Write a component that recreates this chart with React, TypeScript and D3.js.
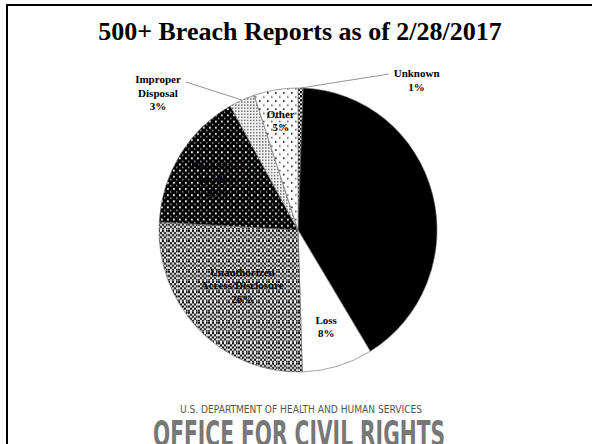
import { useEffect, useRef } from "react"
import * as d3 from "d3"

// slices in drawing order, clockwise from 12 o'clock
const categories = [
  "Unknown",
  "Theft",
  "Loss",
  "Unauthorized Access/Disclosure",
  "Hacking/IT Incident",
  "Improper Disposal",
  "Other",
]
const shares = [0.6, 40.7, 8.2, 26.4, 16.0, 3.0, 5.1]
const labelLines = [
  ["Unknown"],
  ["Theft"],
  ["Loss"],
  ["Unauthorized", "Access/Disclosure"],
  ["Hacking/IT", "Incident"],
  ["Improper", "Disposal"],
  ["Other"],
]

const title = "500+ Breach Reports as of 2/28/2017"
const footerSmall = "U.S. DEPARTMENT OF HEALTH AND HUMAN SERVICES"
const footerBig = "OFFICE FOR CIVIL RIGHTS"

const W = 592
const H = 444

export default function App() {
  const svgRef = useRef<SVGSVGElement>(null)

  useEffect(() => {
    if (!svgRef.current) return
    const root = d3.select(svgRef.current)
    root.selectAll("*").remove()

    const cx = 298
    const cy = 230
    const r = 139
    const sy = 142 / 139

    const defs = root.append("defs")

    // fill patterns, one per slice
    const unauth = defs.append("pattern").attr("id", "p-unauth").attr("patternUnits", "userSpaceOnUse").attr("width", 10).attr("height", 10)
    unauth.append("rect").attr("width", 10).attr("height", 10).attr("fill", "#eee")
    for (let i = 0; i < 5; i++)
      for (let j = 0; j < 5; j++)
        if ((i + j) % 2 === 0) unauth.append("rect").attr("x", i * 2).attr("y", j * 2).attr("width", 2).attr("height", 2).attr("fill", "#111")
    unauth.append("rect").attr("x", 0).attr("y", 9).attr("width", 10).attr("height", 1).attr("fill", "#ccc").attr("opacity", 0.5)
    unauth.append("rect").attr("x", 9).attr("y", 0).attr("width", 1).attr("height", 10).attr("fill", "#ccc").attr("opacity", 0.5)

    const hack = defs.append("pattern").attr("id", "p-hack").attr("patternUnits", "userSpaceOnUse").attr("width", 6).attr("height", 6)
    hack.append("rect").attr("width", 6).attr("height", 6).attr("fill", "#000")
    hack.append("rect").attr("x", 1).attr("y", 1).attr("width", 1.8).attr("height", 1.8).attr("fill", "#f4f4f4")
    hack.append("rect").attr("x", 4).attr("y", 4).attr("width", 1.5).attr("height", 1.5).attr("fill", "#999")

    const improper = defs.append("pattern").attr("id", "p-improper").attr("patternUnits", "userSpaceOnUse").attr("width", 3).attr("height", 3)
    improper.append("rect").attr("width", 3).attr("height", 3).attr("fill", "#f2f2f2")
    improper.append("rect").attr("width", 1.5).attr("height", 1.5).attr("fill", "#777")

    const other = defs.append("pattern").attr("id", "p-other").attr("patternUnits", "userSpaceOnUse").attr("width", 8).attr("height", 8)
    other.append("rect").attr("width", 8).attr("height", 8).attr("fill", "#fff")
    other.append("rect").attr("x", 1).attr("y", 1).attr("width", 1.6).attr("height", 1.6).attr("fill", "#222")
    other.append("rect").attr("x", 5).attr("y", 5).attr("width", 1.6).attr("height", 1.6).attr("fill", "#666")

    const unknown = defs.append("pattern").attr("id", "p-unknown").attr("patternUnits", "userSpaceOnUse").attr("width", 4).attr("height", 4)
    unknown.append("rect").attr("width", 4).attr("height", 4).attr("fill", "#000")
    unknown.append("rect").attr("x", 0).attr("y", 0).attr("width", 2).attr("height", 2).attr("fill", "#fff")
    unknown.append("rect").attr("x", 2).attr("y", 2).attr("width", 2).attr("height", 2).attr("fill", "#fff")

    const fills = ["url(#p-unknown)", "#000", "#fff", "url(#p-unauth)", "url(#p-hack)", "url(#p-improper)", "url(#p-other)"]

    // frame (only top and left edges fall inside the window)
    root.append("line").attr("x1", 7).attr("y1", 5).attr("x2", W).attr("y2", 5).attr("stroke", "#000").attr("stroke-width", 2)
    root.append("line").attr("x1", 7).attr("y1", 4).attr("x2", 7).attr("y2", H).attr("stroke", "#000").attr("stroke-width", 2)

    root
      .append("text")
      .attr("x", 300)
      .attr("y", 40)
      .attr("text-anchor", "middle")
      .attr("font-family", "'Liberation Serif', 'Times New Roman', serif")
      .attr("font-weight", "bold")
      .attr("font-size", 26)
      .text(title)

    const pie = d3
      .pie<number>()
      .sort(null)
      .value((d) => d)
    const arcs = pie(shares)
    const arc = d3.arc<d3.PieArcDatum<number>>().innerRadius(0).outerRadius(r)

    const g = root.append("g").attr("transform", `translate(${cx},${cy}) scale(1,${sy})`)
    g.selectAll("path")
      .data(arcs)
      .enter()
      .append("path")
      .attr("d", arc)
      .attr("fill", (d, i) => fills[i])
      .attr("stroke", "#666")
      .attr("stroke-width", 0.6)

    // label layout: inside labels sit at a fraction of the radius,
    // outside labels are offset from the slice edge with a leader line
    const inside: Record<number, number> = { 1: 0.6, 2: 0.71, 3: 0.56, 4: 0.68, 6: 0.78 }
    const outside: Record<number, { lead: [number, number]; label: [number, number] }> = {
      0: { lead: [88, -14], label: [116, -8] },
      5: { lead: [-56, -18], label: [-84, -7] },
    }
    const lh = 13.5
    const labels = root
      .append("g")
      .attr("font-family", "'Liberation Serif', 'Times New Roman', serif")
      .attr("font-weight", "bold")
      .attr("font-size", 11)
      .attr("text-anchor", "middle")

    arcs.forEach((a, i) => {
      const mid = (a.startAngle + a.endAngle) / 2
      const pt = (rad: number): [number, number] => [cx + rad * Math.sin(mid), cy - rad * Math.cos(mid) * sy]
      let lx: number
      let ly: number
      if (outside[i]) {
        const [ex, ey] = pt(r)
        const o = outside[i]
        labels
          .append("line")
          .attr("x1", ex)
          .attr("y1", ey)
          .attr("x2", ex + o.lead[0])
          .attr("y2", ey + o.lead[1])
          .attr("stroke", "#777")
          .attr("stroke-width", 0.8)
        lx = ex + o.label[0]
        ly = ey + o.label[1]
      } else {
        ;[lx, ly] = pt(r * inside[i])
      }
      const lines = [...labelLines[i], `${Math.round(shares[i])}%`]
      lines.forEach((t, k) => {
        labels
          .append("text")
          .attr("x", lx)
          .attr("y", ly + (k - (lines.length - 1) / 2) * lh)
          .attr("dy", "0.35em")
          .attr("fill", "#000")
          .text(t)
      })
    })

    // footer logo text
    root
      .append("text")
      .attr("x", 180)
      .attr("y", 413)
      .attr("textLength", 242)
      .attr("lengthAdjust", "spacingAndGlyphs")
      .attr("font-family", "'DejaVu Sans', sans-serif")
      .attr("font-stretch", "condensed")
      .attr("font-size", 10.5)
      .attr("fill", "#555")
      .text(footerSmall)
    root
      .append("text")
      .attr("x", 153)
      .attr("y", 446)
      .attr("textLength", 292)
      .attr("lengthAdjust", "spacingAndGlyphs")
      .attr("font-family", "'DejaVu Sans', sans-serif")
      .attr("font-stretch", "condensed")
      .attr("font-weight", "bold")
      .attr("font-size", 35)
      .attr("fill", "#777")
      .text(footerBig)
  }, [])

  return (
    <svg
      ref={svgRef}
      width={W}
      height={H}
      style={{ position: "absolute", left: 0, top: 0, background: "#fff" }}
    ></svg>
  )
}
